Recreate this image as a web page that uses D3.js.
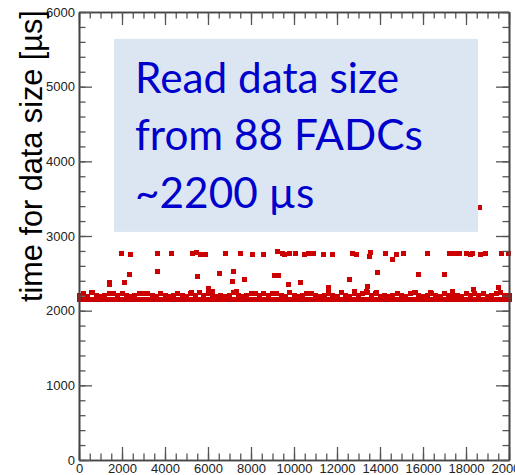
<!DOCTYPE html>
<html>
<head>
<meta charset="utf-8">
<script src="https://cdn.jsdelivr.net/npm/d3@7"></script>
<style>
  body { margin: 0; background: #fff; }
  svg { display: block; }
</style>
</head>
<body>
<script>
// dense band: one column every 200 events, lower and upper row of markers
const bandStep = 200;
const bandLow = [
  2148, 2146, 2149, 2148, 2144, 2148, 2150, 2148, 2146, 2148,
  2149, 2147, 2148, 2145, 2148, 2150, 2148, 2146, 2148, 2149,
  2148, 2144, 2148, 2150, 2148, 2147, 2148, 2146, 2149, 2148,
  2148, 2145, 2148, 2150, 2148, 2146, 2148, 2149, 2147, 2148,
  2148, 2144, 2148, 2150, 2148, 2146, 2149, 2148, 2147, 2148,
  2148, 2146, 2150, 2148, 2144, 2148, 2150, 2148, 2146, 2148,
  2149, 2147, 2148, 2145, 2148, 2150, 2148, 2146, 2148, 2149,
  2148, 2144, 2148, 2150, 2148, 2147, 2148, 2146, 2149, 2148,
  2148, 2145, 2148, 2150, 2148, 2146, 2148, 2149, 2147, 2148,
  2148, 2144, 2148, 2150, 2148, 2146, 2149, 2148, 2147, 2148,
  2148
];
const bandHigh = [
  2200, 2235, 2195, 2240, 2200, 2195, 2205, 2235, 2230, 2200,
  2235, 2205, 2195, 2200, 2235, 2230, 2225, 2200, 2195, 2235,
  2200, 2195, 2200, 2230, 2200, 2195, 2235, 2200, 2240, 2205,
  2235, 2200, 2195, 2200, 2195, 2205, 2240, 2200, 2195, 2200,
  2235, 2230, 2200, 2235, 2200, 2235, 2225, 2200, 2195, 2240,
  2200, 2195, 2205, 2235, 2230, 2200, 2195, 2200, 2235, 2200,
  2195, 2240, 2200, 2195, 2235, 2200, 2235, 2240, 2200, 2235,
  2195, 2200, 2195, 2200, 2235, 2200, 2195, 2235, 2240, 2200,
  2195, 2200, 2235, 2200, 2195, 2235, 2200, 2195, 2200, 2195,
  2235, 2200, 2235, 2200, 2235, 2195, 2200, 2235, 2240, 2200,
  2205
];

// isolated slow events [event number, time in us]
const outliers = [
  [620, 2240], [1430, 2380], [1430, 2344], [1970, 2760], [2110, 2375],
  [2340, 2478], [2400, 2755], [3630, 2760], [3630, 2527], [4310, 2772],
  [5220, 2250], [5270, 2760], [5470, 2777], [5500, 2451], [5670, 2755],
  [5890, 2755], [6030, 2300], [6200, 2255], [6530, 2495], [6820, 2760],
  [7150, 2397], [7190, 2527], [7330, 2255], [7500, 2760], [7720, 2415],
  [8090, 2755], [8600, 2755], [9070, 2469], [9220, 2795], [9270, 2469],
  [9460, 2763], [9570, 2750], [9740, 2357], [9770, 2763], [10060, 2763],
  [10290, 2375], [10480, 2755], [10680, 2772], [10920, 2772], [11350, 2755],
  [11610, 2313], [11610, 2277], [11770, 2755], [12220, 2246], [12570, 2424],
  [12700, 2763], [12800, 2263], [12920, 2755], [13360, 2259], [13410, 2317],
  [13500, 2723], [13570, 2777], [13860, 2240], [13890, 2505], [14250, 2772],
  [14570, 2679], [14780, 2755], [15100, 2763], [15630, 2240], [15770, 2491],
  [16220, 2763], [16330, 2240], [17010, 2487], [17210, 2763], [17350, 2263],
  [17470, 2763], [17690, 2763], [18000, 2763], [18200, 2755], [18280, 2763],
  [18360, 2281], [18620, 3379], [18680, 2746], [18930, 2763], [19520, 2308],
  [19640, 2772], [19970, 2772]
];

const xDomain = [0, 20000];
const yDomain = [0, 6000];
const yTitle = "time for data size [µs]";
const noteLines = ["Read data size", "from 88 FADCs", "~2200 µs"];
const noteBox = { x: [1630, 18560], y: [3055, 5640] };

const width = 515;
const height = 475;
const plotLeft = 79, plotRight = 509, plotTop = 12, plotBottom = 460;
const red = "#cc0000";
const ms = 5;

const svg = d3.select("body").append("svg")
  .attr("width", width)
  .attr("height", height)
  .attr("viewBox", `0 0 ${width} ${height}`);

const x = d3.scaleLinear().domain(xDomain).range([plotLeft, plotRight]);
const y = d3.scaleLinear().domain(yDomain).range([plotBottom, plotTop]);

const points = [];
bandLow.forEach((v, i) => points.push([i * bandStep, v]));
bandHigh.forEach((v, i) => points.push([i * bandStep, v]));
outliers.forEach((d) => points.push(d));

svg.append("g")
  .attr("shape-rendering", "crispEdges")
  .selectAll("rect")
  .data(points)
  .join("rect")
  .attr("x", (d) => x(d[0]) - ms / 2)
  .attr("y", (d) => y(d[1]) - ms / 2)
  .attr("width", ms)
  .attr("height", ms)
  .attr("fill", red);

// annotation box
svg.append("rect")
  .attr("x", x(noteBox.x[0]))
  .attr("y", y(noteBox.y[1]))
  .attr("width", x(noteBox.x[1]) - x(noteBox.x[0]))
  .attr("height", y(noteBox.y[0]) - y(noteBox.y[1]))
  .attr("fill", "#dce6f2");

const note = svg.append("g")
  .attr("font-family", "Lato, 'Open Sans', sans-serif")
  .attr("fill", "#0000cc");

const noteText = note.selectAll("text")
  .data(noteLines)
  .join("text")
  .attr("x", x(noteBox.x[0]) + 21)
  .attr("y", (d, i) => y(noteBox.y[1]) + 54 + i * 57.5)
  .attr("font-size", 40)
  .text((d) => d);
// fit the three lines to their total width in the reference
const noteLen = d3.sum(noteText.nodes(), (n) => n.getComputedTextLength());
noteText.attr("font-size", 40 * 731 / noteLen);

// axes
const axisStyle = (g, labels) => {
  g.select(".domain").attr("stroke", "#444").attr("stroke-width", 1.6);
  g.selectAll(".tick line").attr("stroke", "#555").attr("stroke-width", 1.3);
  g.selectAll("text")
    .attr("font-family", "'Liberation Sans', Arial, sans-serif")
    .attr("font-size", 13)
    .attr("fill", "#222");
  if (!labels) g.selectAll("text").remove();
};

const minor = (axis, scale, n) => axis(scale).ticks(n).tickSize(-6.5).tickSizeOuter(0).tickFormat("");

svg.append("g").attr("transform", `translate(0,${plotBottom})`)
  .call(minor(d3.axisBottom, x, 40)).call(axisStyle, false);
svg.append("g").attr("transform", `translate(0,${plotTop})`)
  .call(minor(d3.axisTop, x, 40)).call(axisStyle, false);
svg.append("g").attr("transform", `translate(${plotLeft},0)`)
  .call(minor(d3.axisLeft, y, 30)).call(axisStyle, false);
svg.append("g").attr("transform", `translate(${plotRight},0)`)
  .call(minor(d3.axisRight, y, 30)).call(axisStyle, false);

svg.append("g").attr("transform", `translate(0,${plotBottom})`)
  .call(d3.axisBottom(x).ticks(10).tickSize(-13).tickSizeOuter(0).tickPadding(4).tickFormat(d3.format("d")))
  .call(axisStyle, true);
svg.append("g").attr("transform", `translate(0,${plotTop})`)
  .call(d3.axisTop(x).ticks(10).tickSize(-13).tickSizeOuter(0))
  .call(axisStyle, false);
svg.append("g").attr("transform", `translate(${plotLeft},0)`)
  .call(d3.axisLeft(y).ticks(6).tickSize(-13).tickSizeOuter(0).tickPadding(4).tickFormat(d3.format("d")))
  .call(axisStyle, true);
svg.append("g").attr("transform", `translate(${plotRight},0)`)
  .call(d3.axisRight(y).ticks(6).tickSize(-13).tickSizeOuter(0))
  .call(axisStyle, false);

// y title
const title = svg.append("text")
  .attr("transform", "translate(42,302) rotate(-90)")
  .attr("font-family", "'Liberation Sans', Arial, sans-serif")
  .attr("font-size", 24)
  .attr("fill", "#000")
  .text(yTitle);
const titleLen = title.node().getComputedTextLength();
title.attr("font-size", 24 * 292 / titleLen);
</script>
</body>
</html>
